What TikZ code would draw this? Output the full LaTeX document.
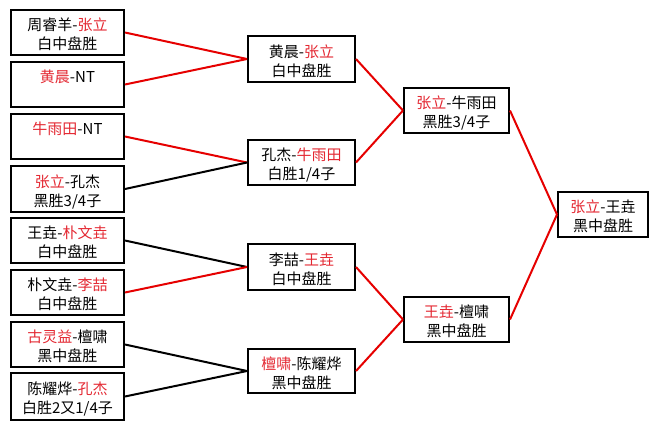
\documentclass[tikz,border=0pt]{standalone}
\usepackage{fontspec}
\setmainfont{Noto Sans CJK SC}
\usetikzlibrary{calc}
\definecolor{txtred}{RGB}{228,40,50}
\definecolor{linered}{RGB}{230,0,0}
\newcommand\redtxt[1]{\textcolor{txtred}{#1}}
\begin{document}
\begin{tikzpicture}[x=1pt,y=-1pt,
  box/.style={draw=black, line width=2pt, inner sep=0pt, fill=white},
  lbl/.style={anchor=base, inner sep=0pt, font=\fontsize{15}{18}\selectfont},
  win/.style={draw=linered, line width=2pt},
  lose/.style={draw=black, line width=2pt}]
\useasboundingbox[fill=white] (0,0) rectangle (659,429);

% round 1
\node[box, minimum width=113, minimum height=45] (a1) at (67.5,32.5) {};
\node[box, minimum width=113, minimum height=45] (a2) at (67.5,84.5) {};
\node[box, minimum width=113, minimum height=45] (a3) at (67.5,136.5) {};
\node[box, minimum width=113, minimum height=46] (a4) at (67.5,189) {};
\node[box, minimum width=113, minimum height=45] (a5) at (67.5,240.5) {};
\node[box, minimum width=113, minimum height=45] (a6) at (67.5,292.5) {};
\node[box, minimum width=113, minimum height=45] (a7) at (67.5,344.5) {};
\node[box, minimum width=113, minimum height=47] (a8) at (67.5,396.5) {};
% round 2
\node[box, minimum width=107, minimum height=46] (b1) at (301.5,59) {};
\node[box, minimum width=107, minimum height=45] (b2) at (301.5,162.5) {};
\node[box, minimum width=107, minimum height=46] (b3) at (301.5,267) {};
\node[box, minimum width=107, minimum height=44] (b4) at (301.5,371) {};
% round 3
\node[box, minimum width=105, minimum height=45] (c1) at (456.5,110.5) {};
\node[box, minimum width=105, minimum height=45] (c2) at (456.5,319.5) {};
% final
\node[box, minimum width=90, minimum height=45] (d1) at (603,214.5) {};

% labels
\node[lbl] (a1t) at ($(a1)+(0,-2)$) {周睿羊-\redtxt{张立}};
\node[lbl] (a1b) at ($(a1)+(0,17)$) {白中盘胜};
\node[lbl] (a2t) at ($(a2)+(0,-2)$) {\redtxt{黄晨}-NT};
\node[lbl] (a3t) at ($(a3)+(0,-2)$) {\redtxt{牛雨田}-NT};
\node[lbl] (a4t) at ($(a4)+(0,-2)$) {\redtxt{张立}-孔杰};
\node[lbl] (a4b) at ($(a4)+(0,17)$) {黑胜3/4子};
\node[lbl] (a5t) at ($(a5)+(0,-2)$) {王垚-\redtxt{朴文垚}};
\node[lbl] (a5b) at ($(a5)+(0,17)$) {白中盘胜};
\node[lbl] (a6t) at ($(a6)+(0,-2)$) {朴文垚-\redtxt{李喆}};
\node[lbl] (a6b) at ($(a6)+(0,17)$) {白中盘胜};
\node[lbl] (a7t) at ($(a7)+(0,-2)$) {\redtxt{古灵益}-檀啸};
\node[lbl] (a7b) at ($(a7)+(0,17)$) {黑中盘胜};
\node[lbl] (a8t) at ($(a8)+(0,-2)$) {陈耀烨-\redtxt{孔杰}};
\node[lbl] (a8b) at ($(a8)+(0,17)$) {白胜2又1/4子};

\node[lbl] (b1t) at ($(b1)+(0,-2)$) {黄晨-\redtxt{张立}};
\node[lbl] (b1b) at ($(b1)+(0,17)$) {白中盘胜};
\node[lbl] (b2t) at ($(b2)+(0,-2)$) {孔杰-\redtxt{牛雨田}};
\node[lbl] (b2b) at ($(b2)+(0,17)$) {白胜1/4子};
\node[lbl] (b3t) at ($(b3)+(0,-2)$) {李喆-\redtxt{王垚}};
\node[lbl] (b3b) at ($(b3)+(0,17)$) {白中盘胜};
\node[lbl] (b4t) at ($(b4)+(0,-2)$) {\redtxt{檀啸}-陈耀烨};
\node[lbl] (b4b) at ($(b4)+(0,17)$) {黑中盘胜};

\node[lbl] (c1t) at ($(c1)+(0,-2)$) {\redtxt{张立}-牛雨田};
\node[lbl] (c1b) at ($(c1)+(0,17)$) {黑胜3/4子};
\node[lbl] (c2t) at ($(c2)+(0,-2)$) {\redtxt{王垚}-檀啸};
\node[lbl] (c2b) at ($(c2)+(0,17)$) {黑中盘胜};

\node[lbl] (d1t) at ($(d1)+(0,-2)$) {\redtxt{张立}-王垚};
\node[lbl] (d1b) at ($(d1)+(0,17)$) {黑中盘胜};

% connectors
\draw[win]  (a1.east) -- (b1.west);
\draw[win]  (a2.east) -- (b1.west);
\draw[win]  (a3.east) -- (b2.west);
\draw[lose] (a4.east) -- (b2.west);
\draw[lose] (a5.east) -- (b3.west);
\draw[win]  (a6.east) -- (b3.west);
\draw[lose] (a7.east) -- (b4.west);
\draw[lose] (a8.east) -- (b4.west);
\draw[win]  (b1.east) -- (c1.west);
\draw[win]  (b2.east) -- (c1.west);
\draw[win]  (b3.east) -- (c2.west);
\draw[win]  (b4.east) -- (c2.west);
\draw[win]  (c1.east) -- (d1.west);
\draw[win]  (c2.east) -- (d1.west);
\end{tikzpicture}
\end{document}
